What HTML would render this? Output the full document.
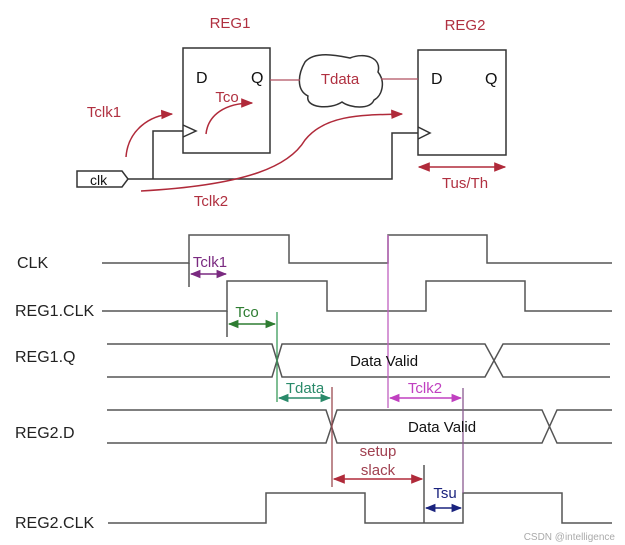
<!DOCTYPE html>
<html><head><meta charset="utf-8"><style>
html,body{margin:0;padding:0;background:#fff;}
svg{display:block;font-family:"Liberation Sans",Arial,sans-serif;}
</style></head><body>
<svg width="625" height="545" viewBox="0 0 625 545" xmlns="http://www.w3.org/2000/svg">
<defs>
<marker id="ar" viewBox="0 0 10 10" refX="9" refY="5" markerWidth="8" markerHeight="8" orient="auto-start-reverse"><path d="M0,1 L10,5 L0,9 z" fill="#b02a3a"/></marker>
<marker id="ap" viewBox="0 0 10 10" refX="9" refY="5" markerWidth="7" markerHeight="7" orient="auto-start-reverse"><path d="M0,1 L10,5 L0,9 z" fill="#7a2a80"/></marker>
<marker id="ag" viewBox="0 0 10 10" refX="9" refY="5" markerWidth="7" markerHeight="7" orient="auto-start-reverse"><path d="M0,1 L10,5 L0,9 z" fill="#2e7d32"/></marker>
<marker id="at" viewBox="0 0 10 10" refX="9" refY="5" markerWidth="7" markerHeight="7" orient="auto-start-reverse"><path d="M0,1 L10,5 L0,9 z" fill="#2a8a6a"/></marker>
<marker id="am" viewBox="0 0 10 10" refX="9" refY="5" markerWidth="7" markerHeight="7" orient="auto-start-reverse"><path d="M0,1 L10,5 L0,9 z" fill="#c040c0"/></marker>
<marker id="ab" viewBox="0 0 10 10" refX="9" refY="5" markerWidth="7" markerHeight="7" orient="auto-start-reverse"><path d="M0,1 L10,5 L0,9 z" fill="#1a237e"/></marker>
</defs>
<g fill="none" stroke="#333" stroke-width="1.5">
<rect x="183" y="48" width="87" height="105"/>
<rect x="418" y="50" width="88" height="105"/>
<path d="M183,125 L196,131 L183,137"/>
<path d="M418,127 L430,133 L418,139"/>
<path d="M77,171 H122 L128,179 L122,187 H77 Z"/>
<path d="M128,179 H392 V133 H418"/>
<path d="M153,179 V131 H183"/>
<path d="M305,62 C315,50 340,56 350,58 C365,52 382,58 378,72 C386,82 382,96 374,100 C370,110 350,108 342,102 C330,110 305,108 308,96 C296,90 298,74 305,62 Z"/>
</g>
<g stroke="#b05060" stroke-width="1.3" fill="none">
<path d="M270,80 H300"/><path d="M381,79 H418"/>
</g>
<g stroke="#b02a3a" stroke-width="1.5" fill="none">
<path d="M419,167 H505" marker-start="url(#ar)" marker-end="url(#ar)"/>
<path d="M126,157 C128,130 150,115 172,114" marker-end="url(#ar)"/>
<path d="M206,134 C208,115 225,103 252,103" marker-end="url(#ar)"/>
<path d="M141,191 C250,185 290,165 305,140 C325,115 360,115 402,114" marker-end="url(#ar)"/>
</g>
<g fill="#b03040" font-size="15" text-anchor="middle">
<text x="230" y="28">REG1</text><text x="465" y="30">REG2</text>
<text x="104" y="117">Tclk1</text><text x="227" y="102">Tco</text>
<text x="211" y="206">Tclk2</text><text x="465" y="188">Tus/Th</text>
</g>
<text x="340" y="84" fill="#b03040" font-size="15" text-anchor="middle">Tdata</text>
<g font-size="16" fill="#111">
<text x="196" y="83">D</text><text x="251" y="83">Q</text>
<text x="431" y="84">D</text><text x="485" y="84">Q</text>
<text x="90" y="185" font-size="14">clk</text>
</g>
<g font-size="16" fill="#222">
<text x="17" y="268">CLK</text><text x="15" y="316">REG1.CLK</text>
<text x="15" y="362">REG1.Q</text><text x="15" y="438">REG2.D</text><text x="15" y="528">REG2.CLK</text>
</g>
<g fill="none" stroke="#555" stroke-width="1.5">
<path d="M102,263 H189 V235 H289 V263 H388 V235 H487 V263 H612"/>
<path d="M102,311 H227 V281 H327 V311 H426 V281 H525 V311 H612"/>
<path d="M107,344 H272 L282,377 H485 L503,344 H610"/>
<path d="M107,377 H272 L282,344 H485 L503,377 H610"/>
<path d="M107,410 H326 L337,443 H542 L557,410 H612"/>
<path d="M107,443 H326 L337,410 H542 L557,443 H612"/>
<path d="M108,523 H266 V493 H365 V523 H463 V493 H562 V523 H612"/>
<path d="M189,263 V287"/><path d="M227,311 V337"/>
<path d="M424,465 V523"/>
</g>
<path d="M388,235 V408" stroke="#c060c0" stroke-width="1.3"/>
<path d="M463,388 V493" stroke="#8a5a90" stroke-width="1.3"/>
<path d="M277,312 V402" stroke="#3a9a5a" stroke-width="1.3"/>
<path d="M332,387 V487" stroke="#9a4a50" stroke-width="1.3"/>
<path d="M191,274 H226" stroke="#7a2a80" stroke-width="1.5" marker-start="url(#ap)" marker-end="url(#ap)"/>
<path d="M229,324 H275" stroke="#2e7d32" stroke-width="1.5" marker-start="url(#ag)" marker-end="url(#ag)"/>
<path d="M279,398 H330" stroke="#2a8a6a" stroke-width="1.5" marker-start="url(#at)" marker-end="url(#at)"/>
<path d="M390,398 H461" stroke="#c040c0" stroke-width="1.5" marker-start="url(#am)" marker-end="url(#am)"/>
<path d="M334,479 H422" stroke="#b02a3a" stroke-width="1.5" marker-start="url(#ar)" marker-end="url(#ar)"/>
<path d="M426,508 H461" stroke="#1a237e" stroke-width="1.5" marker-start="url(#ab)" marker-end="url(#ab)"/>
<g font-size="15" text-anchor="middle">
<text x="210" y="267" fill="#7a2a80">Tclk1</text>
<text x="247" y="317" fill="#2e7d32">Tco</text>
<text x="305" y="393" fill="#2a8a6a">Tdata</text>
<text x="425" y="393" fill="#c040c0">Tclk2</text>
<text x="378" y="456" fill="#a04050">setup</text>
<text x="378" y="475" fill="#a04050">slack</text>
<text x="445" y="498" fill="#1a237e">Tsu</text>
<text x="384" y="366" fill="#111">Data Valid</text>
<text x="442" y="432" fill="#111">Data Valid</text>
</g>
<text x="615" y="540" font-size="10" fill="#aaa" text-anchor="end">CSDN @intelligence</text>
</svg>
</body></html>
